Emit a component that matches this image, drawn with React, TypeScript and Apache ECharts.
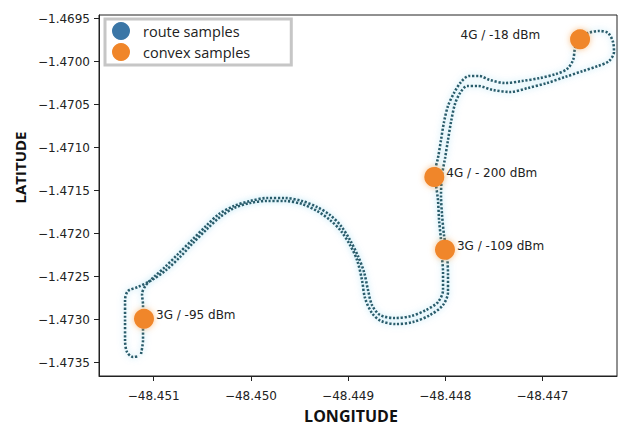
import React, { useEffect, useRef } from "react";
import * as echarts from "echarts";

// Route samples (longitude / latitude), read along the traced path
const routeLon = [
  -48.451131, -48.45111, -48.45111, -48.45111, -48.45112, -48.451079, -48.450987, -48.450884,
  -48.45075, -48.450606, -48.450462, -48.450328, -48.450174, -48.450009, -48.449834, -48.449649,
  -48.449474, -48.44932, -48.449186, -48.449073, -48.44898, -48.448898, -48.448836, -48.448795,
  -48.448754, -48.448671, -48.448517, -48.448352, -48.448198, -48.448075, -48.448023, -48.448023,
  -48.448033, -48.448044, -48.448064, -48.448075, -48.448095, -48.448105, -48.448075, -48.448044,
  -48.448013, -48.447972, -48.44791, -48.447838, -48.447756, -48.447653, -48.44754, -48.447385,
  -48.44721, -48.447025, -48.44686, -48.446747, -48.446685, -48.446665, -48.446624, -48.446531,
  -48.446418, -48.446325, -48.446274, -48.446264, -48.446315, -48.446428, -48.446583, -48.446768,
  -48.446953, -48.447149, -48.447334, -48.447509, -48.447663, -48.447776, -48.447848, -48.4479,
  -48.447941, -48.447972, -48.448002, -48.448033, -48.448044, -48.448033, -48.448013, -48.447982,
  -48.447972, -48.447972, -48.448023, -48.448157, -48.448332, -48.448507, -48.448661, -48.448754,
  -48.448826, -48.448857, -48.448908, -48.44898, -48.449073, -48.449186, -48.44932, -48.449474,
  -48.449649, -48.449834, -48.450009, -48.450174, -48.450318, -48.450452, -48.450596, -48.450729,
  -48.450873, -48.451018, -48.451162, -48.451265, -48.451295, -48.451295, -48.451295, -48.451275,
  -48.451213, -48.451151,
];
const routeLat = [
  -1.4734, -1.473237, -1.473062, -1.47283, -1.472702, -1.472597, -1.472492, -1.472388,
  -1.472237, -1.472074, -1.471911, -1.471771, -1.471678, -1.47162, -1.471585, -1.471585,
  -1.47162, -1.47169, -1.471783, -1.471911, -1.472074, -1.47226, -1.472446, -1.472655,
  -1.47283, -1.472946, -1.472981, -1.472958, -1.472888, -1.472795, -1.472655, -1.472446,
  -1.472283, -1.472074, -1.471841, -1.471609, -1.471434, -1.471283, -1.47112, -1.470911,
  -1.470701, -1.470515, -1.470364, -1.470236, -1.470166, -1.470166, -1.470213, -1.470248,
  -1.470225, -1.47019, -1.470143, -1.470085, -1.46998, -1.469841, -1.469724, -1.469666,
  -1.469643, -1.469666, -1.469771, -1.469887, -1.469992, -1.47005, -1.470108, -1.470178,
  -1.470248, -1.470306, -1.470352, -1.470329, -1.470283, -1.470283, -1.470364, -1.470492,
  -1.470701, -1.470911, -1.47112, -1.471318, -1.47155, -1.471783, -1.472016, -1.472248,
  -1.472481, -1.472678, -1.47283, -1.472946, -1.473027, -1.473051, -1.473016, -1.472923,
  -1.472748, -1.472539, -1.472306, -1.472132, -1.471969, -1.471841, -1.471736, -1.471655,
  -1.47162, -1.47162, -1.471643, -1.471702, -1.471806, -1.471946, -1.472109, -1.472271,
  -1.472423, -1.472539, -1.47262, -1.472667, -1.472772, -1.473004, -1.473237, -1.473376,
  -1.473434, -1.473423,
];

// Convex samples
const convexLon = [-48.4511, -48.448003, -48.448113, -48.446613];
const convexLat = [-1.47299, -1.472187, -1.471341, -1.46974];
const convexTech = ["3G", "3G", "4G", "4G"];
const convexDbm = ["-95", "-109", "- 200", "-18"];

// Axis ticks
const lonTicks = [-48.451, -48.45, -48.449, -48.448, -48.447];
const latTicks = [-1.4735, -1.473, -1.4725, -1.472, -1.4715, -1.471, -1.4705, -1.47, -1.4695];

export default function App() {
  const ref = useRef<HTMLDivElement>(null);
  useEffect(() => {
    if (!ref.current) return;
    const chart = echarts.init(ref.current, null, { renderer: "svg" });
    const routeData = routeLon.map((x, i) => [x, routeLat[i]]);
    const convexData = convexLon.map((x, i) => ({
      value: [x, convexLat[i]],
      label: {
        position: i === 3 ? "left" : "right",
        distance: i === 3 ? 30 : 2,
        formatter: `${convexTech[i]} / ${convexDbm[i]} dBm`,
      },
    }));
    const minus = (s: string) => s.replace("-", "\u2212");
    chart.setOption({
      animation: false,
      backgroundColor: "#ffffff",
      grid: {
        left: 99,
        right: 2,
        top: 15,
        bottom: 52,
        containLabel: false,
        outerBoundsMode: "none",
        show: true,
        borderColor: "#222",
        borderWidth: 1,
        backgroundColor: "transparent",
      },
      legend: {
        left: 105,
        top: 19,
        orient: "vertical",
        icon: "circle",
        itemWidth: 18,
        itemHeight: 18,
        itemGap: 3,
        backgroundColor: "#fff",
        borderColor: "#c6c6c6",
        borderWidth: 3,
        borderRadius: 0,
        padding: [3, 41, 4, 7],
        textStyle: {
          fontFamily: "Open Sans",
          fontSize: 14.5,
          color: "#222",
          padding: [0, 0, 0, 8],
        },
        data: ["route samples", "convex samples"],
      },
      xAxis: {
        type: "value",
        min: -48.451563,
        max: -48.446233,
        name: "LONGITUDE",
        nameLocation: "middle",
        nameGap: 31,
        nameTextStyle: {
          fontFamily: "Open Sans",
          fontWeight: "bold",
          fontSize: 16,
          lineHeight: 18,
          color: "#111",
          padding: [0, 14, 0, 0],
        },
        axisLine: { show: true, lineStyle: { color: "#222", width: 1 } },
        axisTick: { show: true, length: 5, lineStyle: { color: "#222" }, customValues: lonTicks },
        axisLabel: {
          customValues: lonTicks,
          margin: 14,
          fontFamily: "DejaVu Sans",
          fontSize: 12,
          color: "#222",
          formatter: (v: number) => minus(v.toFixed(3)),
        },
        splitLine: { show: false },
      },
      yAxis: {
        type: "value",
        min: -1.473655,
        max: -1.469457,
        name: "LATITUDE",
        nameLocation: "middle",
        nameRotate: 90,
        nameGap: 67,
        nameTextStyle: {
          fontFamily: "Open Sans",
          fontWeight: "bold",
          fontSize: 15,
          color: "#111",
          padding: [0, 0, 0, 56],
        },
        axisLine: { show: true, lineStyle: { color: "#222", width: 1 } },
        axisTick: { show: true, length: 5, lineStyle: { color: "#222" }, customValues: latTicks },
        axisLabel: {
          customValues: latTicks,
          margin: 9,
          fontFamily: "DejaVu Sans",
          fontSize: 12,
          color: "#222",
          formatter: (v: number) => minus(v.toFixed(4)),
        },
        splitLine: { show: false },
      },
      series: [
        {
          name: "route samples",
          type: "line",
          data: routeData,
          showSymbol: false,
          symbol: "circle",
          smooth: 0.3,
          itemStyle: { color: "#3b76a6" },
          lineStyle: {
            color: "#2a5c6b",
            width: 2.6,
            type: [2.2, 1.7],
            shadowBlur: 6,
            shadowColor: "rgba(120,205,235,0.7)",
          },
          z: 2,
        },
        {
          name: "convex samples",
          type: "scatter",
          data: convexData,
          symbolSize: 20,
          itemStyle: {
            color: "#f0862a",
            opacity: 1,
            shadowBlur: 6,
            shadowColor: "rgba(250,165,80,0.7)",
          },
          label: {
            show: true,
            fontFamily: "DejaVu Sans",
            fontSize: 12,
            color: "#222",
            offset: [0, -4],
          },
          z: 3,
        },
      ],
    });
    return () => chart.dispose();
  }, []);
  return (
    <div
      ref={ref}
      style={{ position: "fixed", left: 0, top: 0, width: 619, height: 428, background: "#fff" }}
    />
  );
}
